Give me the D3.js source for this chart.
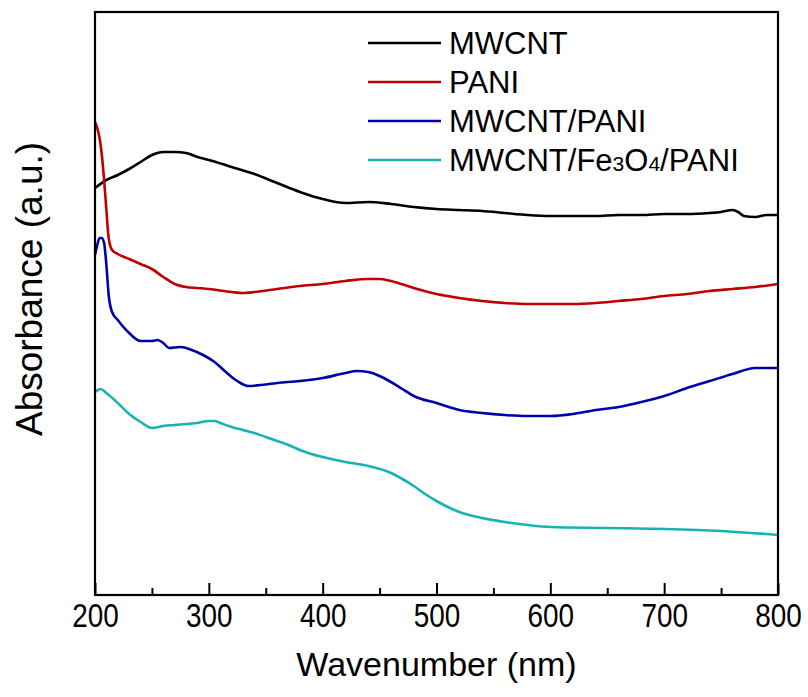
<!DOCTYPE html>
<html>
<head>
<meta charset="utf-8">
<script src="https://cdn.jsdelivr.net/npm/d3@7"></script>
<style>
  html, body { margin: 0; padding: 0; background: #fff; }
  svg { display: block; }
  text { font-family: "Liberation Sans", Arial, sans-serif; fill: #000; }
</style>
</head>
<body>
<svg id="chart" width="808" height="697"></svg>
<script>
// ---------------- DATA ----------------
const seriesNames = ["MWCNT", "PANI", "MWCNT/PANI", "MWCNT/Fe3O4/PANI"];
const seriesColors = ["#000000", "#c00000", "#0000aa", "#17b3b3"];

const mwcntX = [200,210,220,230,240,250,260,270,280,290,300,320,340,360,380,400,420,440,460,480,500,520,540,560,580,600,620,640,660,680,700,720,740,750,760,765,770,780,790,800];
const mwcntY = [4.07,4.15,4.20,4.26,4.33,4.40,4.43,4.43,4.42,4.38,4.35,4.28,4.21,4.12,4.03,3.96,3.92,3.93,3.91,3.88,3.86,3.85,3.84,3.82,3.80,3.79,3.79,3.79,3.80,3.80,3.81,3.81,3.82,3.83,3.85,3.83,3.79,3.78,3.80,3.80];

const paniX = [200,202,204,206,208,210,212,215,220,230,240,250,260,270,280,290,300,320,330,340,360,380,400,420,440,450,460,480,500,520,540,560,580,600,620,640,660,680,700,720,740,760,780,800];
const paniY = [4.73,4.67,4.57,4.40,4.15,3.85,3.57,3.45,3.41,3.36,3.31,3.26,3.18,3.11,3.08,3.07,3.06,3.03,3.02,3.03,3.06,3.09,3.11,3.14,3.16,3.16,3.14,3.07,3.01,2.97,2.94,2.92,2.91,2.91,2.91,2.92,2.94,2.96,2.99,3.01,3.04,3.06,3.08,3.11];

const mwpX = [200,202,204,206,208,210,212,215,220,230,240,250,255,260,265,275,285,295,305,315,325,335,345,360,380,400,420,430,440,450,460,470,480,500,520,540,560,580,600,620,640,660,680,700,720,740,760,780,800];
const mwpY = [3.40,3.50,3.57,3.57,3.52,3.30,3.00,2.83,2.75,2.62,2.54,2.54,2.55,2.52,2.47,2.48,2.45,2.40,2.33,2.23,2.14,2.09,2.10,2.12,2.14,2.17,2.22,2.24,2.23,2.19,2.13,2.06,1.99,1.92,1.85,1.82,1.80,1.79,1.79,1.81,1.85,1.88,1.93,1.99,2.07,2.14,2.21,2.27,2.27];

const mfpX = [200,205,210,220,230,240,250,260,270,280,290,300,305,310,320,330,340,350,360,370,380,390,400,420,440,460,470,480,490,500,510,520,540,560,580,600,650,700,750,800];
const mfpY = [2.03,2.06,2.02,1.92,1.81,1.73,1.67,1.69,1.70,1.71,1.72,1.74,1.74,1.72,1.68,1.65,1.62,1.58,1.54,1.50,1.45,1.41,1.38,1.33,1.29,1.22,1.16,1.09,1.01,0.94,0.88,0.83,0.77,0.73,0.70,0.68,0.67,0.66,0.64,0.60];

const xMajorTicks = [200,300,400,500,600,700,800];
const xMinorTicks = [250,350,450,550,650,750];
const xTitle = "Wavenumber (nm)";
const yTitle = "Absorbance (a.u.)";

// ---------------- LAYOUT ----------------
const svg = d3.select("#chart");
const L = 95, R = 778, T = 12, B = 595;

const x = d3.scaleLinear().domain([200, 800]).range([L, R]);
const y = d3.scaleLinear().domain([0, 5.83]).range([B, T]);

const seriesData = [
  mwcntX.map((v, i) => [v, mwcntY[i]]),
  paniX.map((v, i) => [v, paniY[i]]),
  mwpX.map((v, i) => [v, mwpY[i]]),
  mfpX.map((v, i) => [v, mfpY[i]])
];

const line = d3.line().x(d => x(d[0])).y(d => y(d[1])).curve(d3.curveMonotoneX);

const plot = svg.append("g");
seriesData.forEach((d, i) => {
  plot.append("path")
    .datum(d)
    .attr("fill", "none")
    .attr("stroke", seriesColors[i])
    .attr("stroke-width", 2.6)
    .attr("stroke-linejoin", "round")
    .attr("d", line);
});

// axes
const xAxis = svg.append("g")
  .attr("transform", `translate(0,${B})`)
  .call(d3.axisBottom(x).tickValues(xMajorTicks).tickSizeInner(-12).tickSizeOuter(0).tickPadding(7).tickFormat(d3.format("d")));
xAxis.select(".domain").remove();
xAxis.selectAll(".tick line").attr("stroke", "#000").attr("stroke-width", 2);
xAxis.selectAll(".tick text")
  .attr("font-size", 30)
  .attr("font-family", "Liberation Sans, Arial, sans-serif")
  .attr("transform", "scale(0.93,1.12)");

const xMinor = svg.append("g")
  .attr("transform", `translate(0,${B})`)
  .call(d3.axisBottom(x).tickValues(xMinorTicks).tickSizeInner(-7).tickSizeOuter(0).tickFormat(""));
xMinor.select(".domain").remove();
xMinor.selectAll(".tick line").attr("stroke", "#000").attr("stroke-width", 2);

// frame
svg.append("rect")
  .attr("x", L).attr("y", T).attr("width", R - L).attr("height", B - T)
  .attr("fill", "none").attr("stroke", "#000").attr("stroke-width", 2.2);

// titles
svg.append("text")
  .attr("x", (L + R) / 2 - 0)
  .attr("y", 676)
  .attr("text-anchor", "middle")
  .attr("font-size", 34)
  .text(xTitle);

svg.append("text")
  .attr("transform", `translate(42,289) rotate(-90)`)
  .attr("text-anchor", "middle")
  .attr("font-size", 37)
  .text(yTitle);

// legend
const legend = svg.append("g");
const legX0 = 368, legX1 = 441, legY0 = 43, legDy = 39;
seriesNames.forEach((name, i) => {
  const yy = legY0 + i * legDy;
  legend.append("line")
    .attr("x1", legX0).attr("x2", legX1).attr("y1", yy).attr("y2", yy)
    .attr("stroke", seriesColors[i]).attr("stroke-width", 2.6);
  const t = legend.append("text")
    .attr("x", legX1 + 8).attr("y", yy + 11)
    .attr("font-size", 31);
  if (name.includes("Fe3O4")) {
    t.append("tspan").text("MWCNT/Fe");
    t.append("tspan").attr("font-size", 21).text("3");
    t.append("tspan").text("O");
    t.append("tspan").attr("font-size", 21).text("4");
    t.append("tspan").text("/PANI");
  } else {
    t.text(name);
  }
});
</script>
</body>
</html>
